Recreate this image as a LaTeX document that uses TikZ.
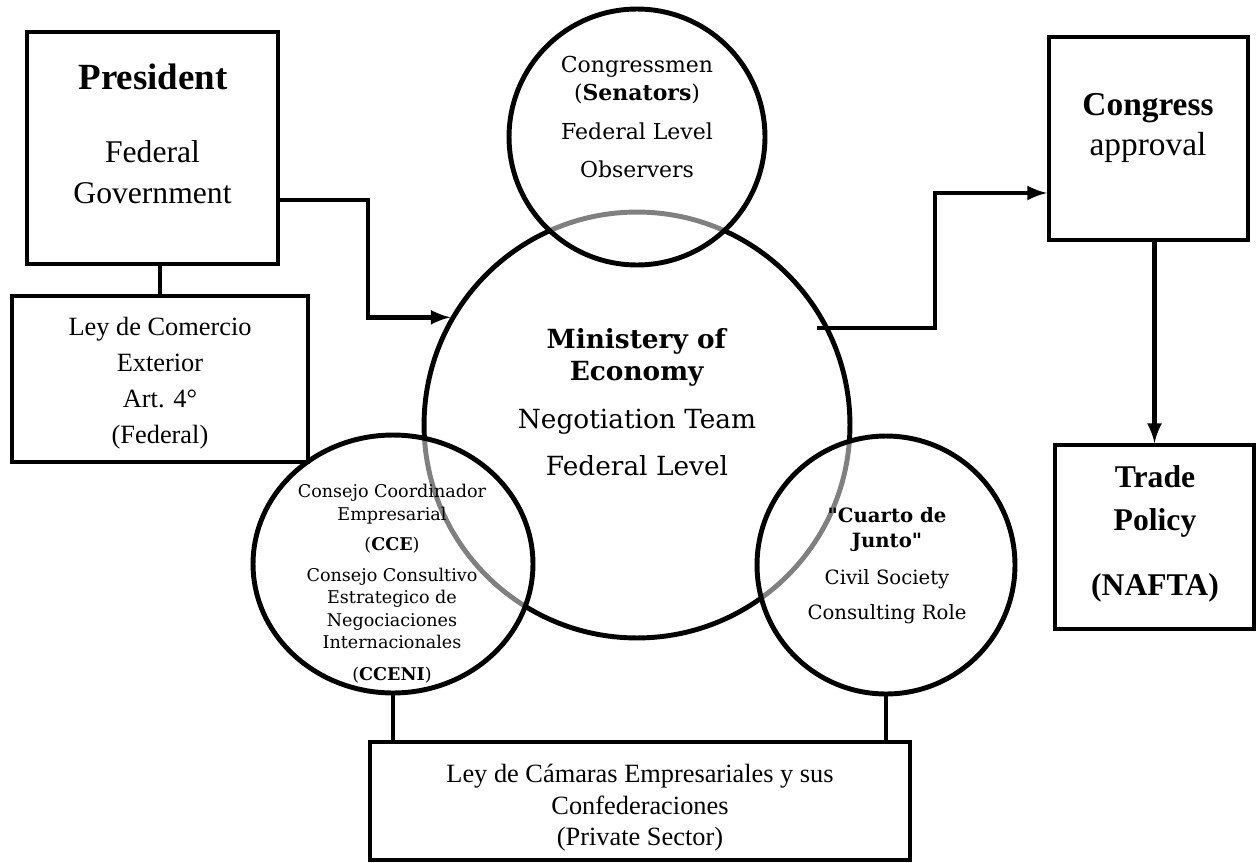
\documentclass[tikz,border=0pt]{standalone}
\usepackage{fontspec}
\setmainfont{Liberation Serif}
\newfontfamily\circfont{DejaVu Serif}
\usetikzlibrary{shapes.geometric}

\begin{document}
\begin{tikzpicture}[x=0.02cm, y=-0.02cm,
    box/.style={draw, fill=white, line width=2.3pt, inner sep=0pt},
    bubble/.style={circle, draw, line width=2.8pt, inner sep=0pt},
    over/.style={bubble, fill=white, fill opacity=0.5, draw opacity=1},
    txt/.style={align=center, inner sep=0pt},
    link/.style={line width=2.8pt},
    arr/.style={link, ->}]
    \tikzset{>=latex}
    \useasboundingbox (0,0) rectangle (1257,862);
    % circles
    \node[bubble, minimum size=8.52cm] (min) at (637,425) {};
    \node[over, minimum size=5.12cm] (sen) at (637,137) {};
    \node[over, ellipse, minimum width=5.6cm, minimum height=5.16cm] (cce) at (393,564) {};
    \node[over, minimum size=5.16cm] (junto) at (886,565) {};
    % boxes
    \node[box, minimum width=5.02cm, minimum height=4.64cm] (pres) at (152.5,148) {};
    \node[box, minimum width=5.92cm, minimum height=3.32cm] (ley) at (160,379) {};
    \node[box, minimum width=3.98cm, minimum height=4.06cm] (cong) at (1148.5,138.5) {};
    \node[box, minimum width=3.98cm, minimum height=3.68cm] (trade) at (1154.5,537) {};
    \node[box, minimum width=10.8cm, minimum height=2.36cm] (law) at (640,801) {};
    % texts
    \node[txt, font=\fontsize{21}{25}\selectfont\bfseries] (prest) at (153,77) {President};
    \node[txt, font=\fontsize{18}{23.2}\selectfont] (fedt) at (152.5,172) {Federal\\Government};
    \node[txt, font=\fontsize{15}{20.4}\selectfont] (leyt) at (160,383) {Ley de Comercio\\Exterior\\Art. 4°\\(Federal)};
    \node[txt, font=\fontsize{19}{22.7}\selectfont] (congt) at (1148,128) {\textbf{Congress}\\approval};
    \node[txt, font=\fontsize{18}{24.4}\selectfont\bfseries] (tradet) at (1155,501) {Trade\\Policy};
    \node[txt, font=\fontsize{18}{22}\selectfont\bfseries] (naftat) at (1155,588) {(NAFTA)};
    \node[txt, font=\fontsize{15}{17.9}\selectfont] (lawt) at (640,808) {Ley de Cámaras Empresariales y sus\\Confederaciones\\(Private Sector)};
    \node[txt, font=\circfont\fontsize{15}{18.7}\selectfont] (mint) at (637,402)
        {\textbf{Ministery of}\\\textbf{Economy}\\[8.5pt]Negotiation Team\\[7.9pt]Federal Level};
    \node[txt, font=\circfont\fontsize{12.5}{15.9}\selectfont] (sent) at (637,117)
        {Congressmen\\(\textbf{Senators})\\[6.2pt]Federal Level\\[5.6pt]Observers};
    \node[txt, font=\circfont\fontsize{10}{12.8}\selectfont] (ccet) at (392,584)
        {Consejo Coordinador\\Empresarial\\[4.2pt](\textbf{CCE})\\[4.8pt]Consejo Consultivo\\Estrategico de\\Negociaciones\\Internacionales\\[5.6pt](\textbf{CCENI})};
    \node[txt, font=\circfont\fontsize{11.2}{14.2}\selectfont] (juntot) at (887,566)
        {\textbf{"Cuarto de}\\\textbf{Junto"}\\[6.8pt]Civil Society\\[5.6pt]Consulting Role};
    % connectors
    \coordinate (bendA) at (368,200);
    \coordinate (startB) at (817,328);
    \coordinate (bendB) at (935,193);
    \draw[link] (ley.north |- pres.south) -- (ley.north);
    \draw[arr] (bendA -| pres.east) -- (bendA) |- (min.150);
    \draw[arr] (startB) -| (bendB) -- (bendB -| cong.west);
    \draw[arr] (trade.north |- cong.south) -- (trade.north);
    \draw[link] (cce.south) -- (cce.south |- law.north);
    \draw[link] (junto.south) -- (junto.south |- law.north);
\end{tikzpicture}
\end{document}
